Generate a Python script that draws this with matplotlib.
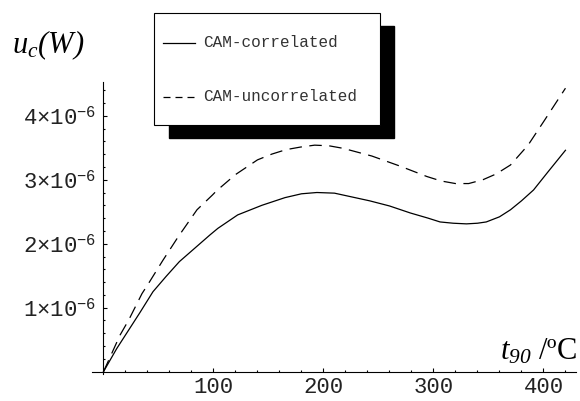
# u_c(W) of the CAM method, correlated vs uncorrelated, against t90
import numpy as np
import matplotlib.pyplot as plt
from matplotlib.lines import Line2D
from matplotlib.patches import Rectangle
from matplotlib.ticker import FixedLocator, FuncFormatter

plt.rcParams['font.family'] = 'Liberation Mono'
plt.rcParams['mathtext.fontset'] = 'custom'
plt.rcParams['mathtext.rm'] = 'Liberation Serif:italic'
plt.rcParams['mathtext.it'] = 'Liberation Serif:italic'
plt.rcParams['mathtext.sf'] = 'Liberation Mono'

# u in units of 1e-6 W
t_corr = [0, 12, 24, 33, 45, 57, 69, 83, 97, 104, 122, 144, 165, 180, 194, 210,
          226, 242, 260, 279, 295, 306, 318, 330, 340, 348, 360, 370, 380, 391, 404, 420]
u_corr = [0, 0.36, 0.68, 0.92, 1.25, 1.49, 1.72, 1.93, 2.14, 2.24, 2.45, 2.60, 2.72, 2.78, 2.80, 2.79,
          2.73, 2.67, 2.59, 2.48, 2.40, 2.34, 2.32, 2.31, 2.32, 2.34, 2.42, 2.53, 2.67, 2.84, 3.12, 3.46]

t_uncorr = [0, 15, 23, 35, 41, 54, 68, 85, 99, 103, 120, 140, 153, 166, 179, 192, 205, 218,
            231, 244, 257, 270, 282, 294, 307, 320, 332, 345, 357, 370, 386, 401, 420]
u_uncorr = [0, 0.57, 0.81, 1.22, 1.38, 1.74, 2.11, 2.53, 2.76, 2.83, 3.08, 3.31, 3.40, 3.47, 3.51, 3.54, 3.53, 3.49,
            3.43, 3.37, 3.29, 3.21, 3.13, 3.05, 2.98, 2.94, 2.94, 3.00, 3.09, 3.23, 3.54, 3.93, 4.43]

labels = ["CAM-correlated", "CAM-uncorrelated"]
x_major = [100, 200, 300, 400]
x_minor = [20, 40, 60, 80, 120, 140, 160, 180, 220, 240, 260, 280, 320, 340, 360, 380, 420]
y_major = [1, 2, 3, 4]
y_minor = [0.2, 0.4, 0.6, 0.8, 1.2, 1.4, 1.6, 1.8, 2.2, 2.4, 2.6, 2.8, 3.2, 3.4, 3.6, 3.8, 4.2, 4.4]

W, H = 580, 401


def fx(px):
    return px / W


def fy(py):
    return 1 - py / H


fig = plt.figure(figsize=(5.8, 4.01), dpi=100)
ax = fig.add_axes([0.1585, 0.0683, 0.8354, 0.7277])

ax.plot(t_corr, np.array(u_corr) * 1e-6, color='black', lw=0.9)
ax.plot(t_uncorr, np.array(u_uncorr) * 1e-6, color='black', lw=0.9, dashes=(10, 6))

ax.set_xlim(-10.5, 430)
ax.set_ylim(-0.03e-6, 4.53e-6)

# axes crossing at the origin, no frame
ax.spines['left'].set_position(('data', 0))
ax.spines['bottom'].set_position(('data', 0))
ax.spines['top'].set_visible(False)
ax.spines['right'].set_visible(False)
for s in ['left', 'bottom']:
    ax.spines[s].set_linewidth(0.8)

ax.xaxis.set_major_locator(FixedLocator(x_major))
ax.xaxis.set_minor_locator(FixedLocator(x_minor))
ax.yaxis.set_major_locator(FixedLocator([v * 1e-6 for v in y_major]))
ax.yaxis.set_minor_locator(FixedLocator([v * 1e-6 for v in y_minor]))
ax.yaxis.set_major_formatter(FuncFormatter(
    lambda v, pos: '%d×10$^{\\mathsf{-6}}$' % round(v * 1e6)))

ax.tick_params(which='both', direction='in', width=0.8, labelsize=16, labelcolor='#222222')
ax.tick_params(which='major', length=2.8)
ax.tick_params(which='minor', length=1.6)
ax.tick_params(axis='x', pad=4)
ax.tick_params(axis='y', pad=5.5)

# axis titles
fig.text(fx(12), fy(53), r'$u_c(W)$', fontsize=22, ha='left', va='baseline')
fig.text(fx(577), fy(359), r'$t_{90}$ /ºC', fontsize=22, family='Liberation Serif',
         ha='right', va='baseline')

# legend box with a hard black shadow
fig.add_artist(Rectangle((fx(169.3), fy(138)), (394 - 169.3) / W, (138 - 26) / H,
                         transform=fig.transFigure, fc='black', ec='black', zorder=2))
fig.add_artist(Rectangle((fx(154.3), fy(125)), (380 - 154.3) / W, (125 - 13.3) / H,
                         transform=fig.transFigure, fc='white', ec='black', lw=0.8, zorder=3))
fig.add_artist(Line2D([fx(162.7), fx(195)], [fy(42.7), fy(42.7)], transform=fig.transFigure,
                      color='black', lw=0.9, zorder=4))
fig.add_artist(Line2D([fx(162.7), fx(195)], [fy(96.7), fy(96.7)], transform=fig.transFigure,
                      color='black', lw=0.9, dashes=(5.6, 4), zorder=4))
fig.text(fx(203), fy(42.7), labels[0], fontsize=11.5, color='#333333', va='center', zorder=5)
fig.text(fx(203), fy(96.7), labels[1], fontsize=11.5, color='#333333', va='center', zorder=5)

fig.savefig('out.png', dpi=100)
